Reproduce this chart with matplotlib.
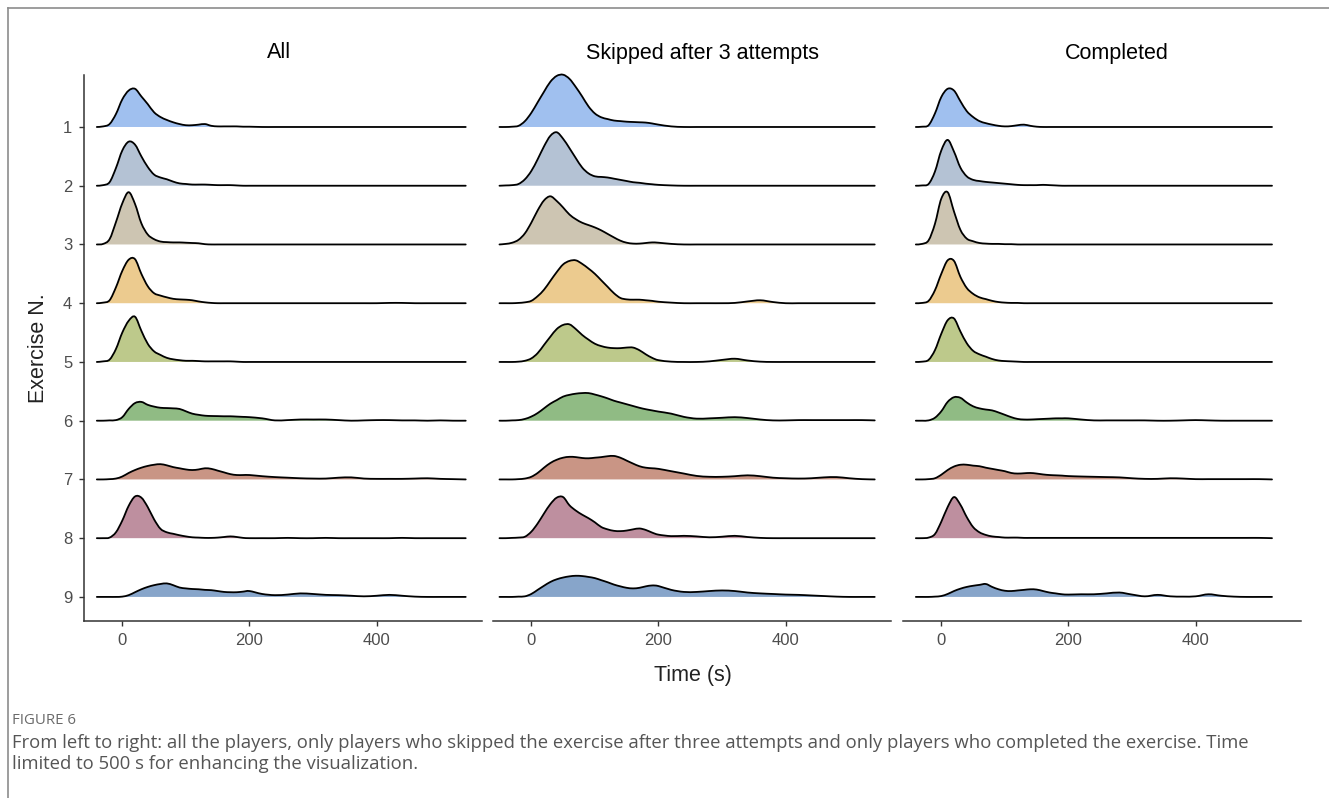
import numpy as np
import matplotlib
matplotlib.use("Agg")
import matplotlib.pyplot as plt
from matplotlib.lines import Line2D
from matplotlib.path import Path
from matplotlib.patches import PathPatch

N = None  # outside the density range

# time grid (s) at which the ridge heights were read
TIME = [-50, -40, -30, -20, -10, 0, 10, 20, 30, 40, 50, 60, 70, 80, 90, 100,
        110, 120, 130, 140, 150, 160, 170, 180, 190, 200,
        220, 240, 260, 280, 300, 320, 340, 360, 380, 400, 420, 440, 460, 480,
        500, 520, 540]

EXERCISES = ["1", "2", "3", "4", "5", "6", "7", "8", "9"]
PANELS = ["All", "Skipped after 3 attempts", "Completed"]
COLORS = ["#a0c0ef", "#b4c2d4", "#cdc5b2", "#eccb8f", "#bdc98b",
          "#90bb84", "#c99585", "#be8f9f", "#87a5ca"]

# ridge heights (in row units) per exercise
DENS_ALL = [
    [N, 0, .01, .05, .22, .47, .62, .65, .52, .39, .25, .17, .12, .08, .05, .03, .03, .04, .05, .02, .01, .01, .01, .01, .005, .005,
     0, 0, 0, 0, 0, 0, 0, 0, 0, 0, 0, 0, 0, 0, 0, 0, 0],
    [N, 0, .01, .06, .30, .60, .75, .70, .50, .32, .19, .14, .11, .07, .04, .03, .02, .02, .02, .015, .01, .01, .01, .005, 0, 0,
     0, 0, 0, 0, 0, 0, 0, 0, 0, 0, 0, 0, 0, 0, 0, 0, 0],
    [N, 0, .01, .09, .38, .70, .89, .69, .36, .17, .09, .05, .04, .035, .035, .03, .025, .02, .005, 0, 0, 0, 0, 0, 0, 0,
     0, 0, 0, 0, 0, 0, 0, 0, 0, 0, 0, 0, 0, 0, 0, 0, 0],
    [N, 0, .01, .05, .27, .55, .74, .75, .50, .29, .17, .13, .10, .075, .065, .06, .05, .03, .015, .005, 0, 0, 0, 0, 0, 0,
     0, 0, 0, 0, 0, 0, 0, 0, 0, 0, .005, .005, 0, 0, 0, 0, 0],
    [N, 0, .01, .04, .22, .50, .70, .77, .53, .31, .18, .12, .07, .045, .03, .02, .02, .015, .01, .01, .01, .01, .01, .005, 0, 0,
     0, 0, 0, 0, 0, 0, 0, 0, 0, 0, 0, 0, 0, 0, 0, 0, 0],
    [N, 0, 0, .005, .01, .06, .20, .30, .32, .27, .24, .22, .215, .21, .20, .16, .12, .10, .085, .08, .078, .075, .075, .07, .065, .06,
     .04, .005, .01, .02, .02, .02, .01, 0, .005, .01, .01, .005, .005, 0, .005, 0, 0],
    [N, 0, 0, .005, .015, .05, .11, .16, .20, .23, .25, .26, .24, .21, .19, .17, .16, .17, .19, .18, .15, .12, .09, .075, .075, .075,
     .055, .04, .03, .02, .015, .015, .03, .035, .015, .01, .01, .01, .015, .02, .01, .005, 0],
    [N, 0, 0, .01, .10, .30, .55, .71, .69, .53, .32, .16, .10, .075, .05, .03, .015, .01, .005, .005, .01, .02, .03, .02, .005, 0,
     0, 0, .005, 0, 0, .005, 0, 0, 0, 0, 0, .005, 0, 0, 0, 0, 0],
    [N, 0, 0, 0, 0, .005, .03, .08, .13, .17, .20, .22, .23, .20, .16, .145, .135, .13, .12, .115, .10, .085, .08, .08, .09, .10,
     .05, .03, .04, .06, .05, .035, .03, .02, .01, .02, .035, .02, .005, 0, 0, 0, 0],
]

DENS_SKIPPED = [
    [0, 0, .005, .02, .10, .24, .42, .60, .77, .87, .89, .82, .68, .52, .35, .23, .165, .135, .11, .10, .09, .085, .08, .075, .06, .04,
     .01, 0, 0, 0, 0, 0, 0, 0, 0, 0, 0, 0, 0, 0, 0, 0, 0],
    [0, .005, .01, .03, .11, .25, .45, .67, .85, .91, .80, .64, .47, .31, .21, .16, .15, .14, .12, .10, .08, .06, .05, .035, .025, .015,
     .005, 0, 0, 0, 0, 0, 0, 0, 0, 0, 0, 0, 0, 0, 0, 0, 0],
    [0, .01, .03, .08, .19, .37, .58, .75, .82, .74, .63, .51, .43, .37, .33, .29, .24, .18, .12, .065, .03, .015, .015, .025, .035, .03,
     .01, 0, 0, 0, 0, 0, 0, 0, 0, 0, 0, 0, 0, 0, 0, 0, 0],
    [0, 0, 0, .005, .015, .04, .12, .23, .38, .53, .66, .72, .73, .67, .59, .50, .39, .28, .17, .09, .065, .06, .06, .05, .04, .025,
     .01, 0, 0, 0, 0, .005, .03, .05, .02, 0, 0, 0, 0, 0, 0, 0, 0],
    [0, 0, 0, .005, .02, .06, .15, .29, .43, .56, .63, .64, .56, .46, .38, .31, .27, .245, .235, .235, .245, .245, .20, .13, .07, .03,
     .005, 0, 0, .01, .035, .055, .025, .005, 0, 0, 0, 0, 0, 0, 0, 0, 0],
    [0, 0, .005, .01, .03, .07, .13, .21, .29, .35, .41, .44, .46, .47, .47, .445, .415, .38, .34, .31, .28, .25, .22, .195, .175, .155,
     .12, .065, .035, .04, .05, .06, .045, .02, .005, .005, .01, .01, .01, .01, .01, .01, .005],
    [0, 0, 0, .005, .015, .045, .11, .20, .28, .335, .37, .385, .38, .365, .36, .37, .38, .395, .40, .37, .32, .27, .225, .20, .19, .18,
     .14, .10, .06, .045, .045, .055, .07, .055, .03, .02, .015, .02, .035, .04, .02, .005, 0],
    [0, 0, .005, .01, .025, .11, .25, .42, .58, .69, .70, .56, .47, .40, .34, .27, .19, .15, .125, .12, .13, .15, .165, .14, .095, .06,
     .035, .04, .03, .015, .025, .04, .02, .005, 0, 0, 0, 0, 0, 0, 0, 0, 0],
    [0, 0, 0, .005, .01, .05, .12, .19, .255, .30, .33, .35, .36, .355, .34, .32, .285, .25, .21, .18, .155, .145, .155, .18, .195, .185,
     .12, .085, .085, .10, .11, .10, .075, .06, .05, .04, .035, .025, .015, .005, 0, 0, 0],
]

DENS_COMPLETED = [
    [N, 0, .005, .03, .23, .51, .65, .62, .44, .27, .17, .10, .065, .04, .02, .01, .015, .03, .04, .02, .005, 0, 0, 0, 0, 0,
     0, 0, 0, 0, 0, 0, 0, 0, 0, 0, 0, 0, 0, 0, 0, 0, N],
    [N, 0, .005, .03, .24, .60, .78, .58, .31, .16, .10, .08, .065, .055, .045, .035, .025, .015, .01, .01, .01, .015, .01, .005, 0, 0,
     0, 0, 0, 0, 0, 0, 0, 0, 0, 0, 0, 0, 0, 0, 0, 0, N],
    [N, 0, .01, .07, .35, .78, .89, .56, .25, .10, .055, .025, .015, .01, .01, .005, .005, 0, 0, 0, 0, 0, 0, 0, 0, 0,
     0, 0, 0, 0, 0, 0, 0, 0, 0, 0, 0, 0, 0, 0, 0, 0, N],
    [N, 0, .005, .04, .22, .50, .73, .72, .45, .26, .16, .10, .07, .04, .02, .01, .005, .005, 0, 0, 0, 0, 0, 0, 0, 0,
     0, 0, 0, 0, 0, 0, 0, 0, 0, 0, 0, 0, 0, 0, 0, 0, N],
    [N, 0, .005, .035, .20, .48, .71, .74, .52, .32, .19, .13, .09, .05, .025, .015, .01, .005, 0, 0, 0, 0, 0, 0, 0, 0,
     0, 0, 0, 0, 0, 0, 0, 0, 0, 0, 0, 0, 0, 0, 0, 0, N],
    [N, 0, 0, .005, .05, .16, .32, .40, .39, .31, .245, .21, .19, .175, .14, .10, .06, .03, .02, .02, .025, .03, .035, .04, .04, .04,
     .02, .005, .005, .005, .005, .005, 0, 0, .005, .01, .005, 0, 0, 0, 0, 0, N],
    [N, 0, 0, .005, .02, .08, .16, .22, .25, .25, .235, .225, .20, .18, .16, .14, .11, .10, .105, .11, .10, .085, .075, .07, .065, .057,
     .05, .045, .04, .035, .02, .01, .01, .02, .015, .005, .005, .005, .005, .005, .005, 0, N],
    [N, 0, 0, .01, .07, .28, .53, .70, .57, .36, .19, .10, .055, .03, .02, .01, .01, .01, .005, .005, .005, .005, .005, .005, .005, .005,
     .005, .005, .005, .005, .005, .005, .005, .005, .005, .005, .005, .005, .005, .005, .005, 0, N],
    [N, 0, 0, 0, .005, .015, .05, .10, .14, .17, .19, .205, .22, .17, .13, .105, .10, .11, .12, .13, .125, .10, .075, .06, .045, .04,
     .045, .045, .06, .075, .04, .01, .035, .01, .005, .01, .045, .02, .005, 0, 0, 0, N],
]

CAPTION_LABEL = "FIGURE 6"
CAPTION = ["From left to right: all the players, only players who skipped the exercise after three attempts and only players who completed the exercise. Time",
           "limited to 500 s for enhancing the visualization."]

plt.rcParams["font.family"] = ["Liberation Sans", "DejaVu Sans"]

W, H = 1329, 798
fig = plt.figure(figsize=(W / 100, H / 100), dpi=100)


def px_axes(x0, x1, y0, y1):
    return fig.add_axes([x0 / W, 1 - y1 / H, (x1 - x0) / W, (y1 - y0) / H])


def smooth_path(x, y):
    # Catmull-Rom through the read points, as cubic Bezier segments
    pts = np.column_stack([x, y])
    verts = [pts[0]]
    codes = [Path.MOVETO]
    m = len(pts)
    for j in range(m - 1):
        p0 = pts[max(j - 1, 0)]
        p1 = pts[j]
        p2 = pts[j + 1]
        p3 = pts[min(j + 2, m - 1)]
        c1 = p1 + (p2 - p0) / 6.0
        c2 = p2 - (p3 - p1) / 6.0
        verts += [c1, c2, p2]
        codes += [Path.CURVE4] * 3
    return verts, codes


panel_x = [(84, 482), (493, 891), (903, 1301)]
title_x = [279, 703, 1117]
t = np.array(TIME, dtype=float)
n = len(EXERCISES)
axis_col = "#333333"
tick_col = "#4d4d4d"

for k, (title, dens) in enumerate(zip(PANELS, [DENS_ALL, DENS_SKIPPED, DENS_COMPLETED])):
    ax = px_axes(panel_x[k][0], panel_x[k][1], 75, 621)
    for i, row in enumerate(dens):
        h = np.array([np.nan if v is None else v for v in row], dtype=float)
        ok = ~np.isnan(h)
        base = n - 1 - i
        xs, ys = t[ok], base + h[ok]
        verts, codes = smooth_path(xs, ys)
        fill_verts = [(xs[0], base)] + verts + [(xs[-1], base), (xs[0], base)]
        fill_codes = [Path.MOVETO, Path.LINETO] + codes[1:] + [Path.LINETO, Path.CLOSEPOLY]
        ax.add_patch(PathPatch(Path(fill_verts, fill_codes), facecolor=COLORS[i],
                               edgecolor="none", zorder=2 + i, clip_on=False))
        ax.add_patch(PathPatch(Path(verts, codes), facecolor="none", edgecolor="black",
                               lw=1.3, zorder=2 + i, joinstyle="round", capstyle="round",
                               clip_on=False))
    ax.set_xlim(-60.2, 565.6)
    ax.set_ylim(-0.41, n - 1 + 0.885)
    ax.set_xticks([0, 200, 400])
    ax.set_xticklabels(["0", "200", "400"])
    for s in ["top", "right"]:
        ax.spines[s].set_visible(False)
    ax.spines["bottom"].set_color(axis_col)
    ax.spines["bottom"].set_linewidth(1.1)
    if k == 0:
        ax.spines["left"].set_color(axis_col)
        ax.spines["left"].set_linewidth(1.1)
        ax.set_yticks(range(n))
        ax.set_yticklabels(EXERCISES[::-1])
    else:
        ax.spines["left"].set_visible(False)
        ax.set_yticks([])
    ax.tick_params(axis="both", length=3.5, width=1.0, color=axis_col,
                   labelcolor=tick_col, labelsize=12, pad=5)
    ax.patch.set_alpha(0)
    fig.text(title_x[k] / W, 1 - 53 / H, title, ha="center", va="center",
             fontsize=15.5, color="black")

fig.text(38 / W, 1 - 348 / H, "Exercise N.", rotation=90, ha="center", va="center",
         fontsize=15.5, color="#222222")
fig.text(693 / W, 1 - 675 / H, "Time (s)", ha="center", va="center",
         fontsize=15.5, color="#222222")

# caption
fig.text(12 / W, 1 - 720 / H, CAPTION_LABEL, ha="left", va="center",
         fontsize=10.8, color="#6a6a6a", family=["Open Sans", "DejaVu Sans"])
fig.text(12 / W, 1 - 743 / H, CAPTION[0], ha="left", va="center",
         fontsize=13.3, color="#555555", family=["Open Sans", "DejaVu Sans"])
fig.text(12 / W, 1 - 764 / H, CAPTION[1], ha="left", va="center",
         fontsize=13.3, color="#555555", family=["Open Sans", "DejaVu Sans"])

# outer frame (top and left edges)
fig.add_artist(Line2D([8 / W, 1], [1 - 8 / H, 1 - 8 / H], transform=fig.transFigure,
                      color="#8c8c8c", lw=1.2))
fig.add_artist(Line2D([8 / W, 8 / W], [0, 1 - 8 / H], transform=fig.transFigure,
                      color="#8c8c8c", lw=1.2))

fig.savefig("out.png", dpi=100, facecolor="white")
